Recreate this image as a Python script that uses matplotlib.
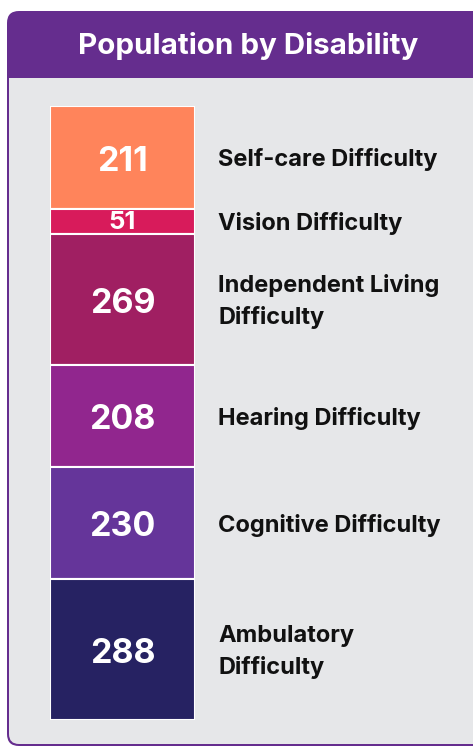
import matplotlib.pyplot as plt
from matplotlib.patches import FancyBboxPatch, Rectangle

# data, top to bottom
categories = ['Self-care Difficulty', 'Vision Difficulty', 'Independent Living\nDifficulty',
              'Hearing Difficulty', 'Cognitive Difficulty', 'Ambulatory\nDifficulty']
values = [211, 51, 269, 208, 230, 288]
colors = ['#FF845B', '#D81B5B', '#A01F62', '#91268E', '#65359A', '#262262']
title = 'Population by Disability'

plt.rcParams['font.family'] = ['Inter', 'DejaVu Sans']

W, H = 473, 748
fig = plt.figure(figsize=(W / 100, H / 100), dpi=100)

# background panel, pixel coords
bg = fig.add_axes([0, 0, 1, 1])
bg.set_xlim(0, W)
bg.set_ylim(H, 0)
bg.axis('off')
purple = '#652D8E'
gray = '#E6E7E9'
bg.add_patch(FancyBboxPatch((7, 11), 520, 735, boxstyle='round,pad=0,rounding_size=12',
                            fc=purple, ec='none'))
bg.add_patch(FancyBboxPatch((9, 78), 520, 666, boxstyle='round,pad=0,rounding_size=10',
                            fc=gray, ec='none'))
bg.add_patch(Rectangle((9, 78), 520, 30, fc=gray, ec='none'))
bg.text(248, 46, title, color='white', fontsize=21.3, fontweight='bold', ha='center', va='center')

# stacked bar
x0, x1, y0, y1 = 50, 195, 106, 720
ax = fig.add_axes([x0 / W, 1 - y1 / H, (x1 - x0) / W, (y1 - y0) / H])
total = sum(values)
bottom = 0
for v, c, name in zip(values, colors, categories):
    ax.bar(0, v, bottom=bottom, width=1, color=c, edgecolor='white', linewidth=1.5)
    mid = bottom + v / 2
    small = v < 100
    ax.annotate(str(v), xy=(0, mid), xytext=(0, -1 if small else -4),
                textcoords='offset pixels', color='white',
                fontsize=18.5 if small else 24.5, fontweight='bold',
                ha='center', va='center')
    ax.annotate(name, xy=(1, mid), xycoords=('axes fraction', 'data'),
                xytext=(23, -2), textcoords='offset pixels', fontsize=17,
                fontweight='bold', color='#111111', ha='left', va='center',
                linespacing=1.5, annotation_clip=False)
    bottom += v
ax.set_xlim(-0.5, 0.5)
ax.set_ylim(total, 0)
ax.axis('off')

fig.savefig('out.png', dpi=100)
